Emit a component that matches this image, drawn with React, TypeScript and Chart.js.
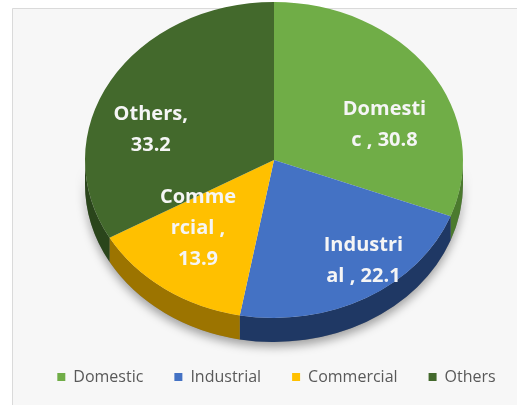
import React, { useEffect, useRef } from "react";
import { Chart, registerables } from "chart.js";

Chart.register(...registerables);

const CATEGORIES = ["Domestic", "Industrial", "Commercial", "Others"];
const VALUES = [30.8, 22.1, 13.9, 33.2];
const TOP_COLORS = ["#70AD47", "#4472C4", "#FFC000", "#43692C"];
const SIDE_COLORS = ["#4B7A2E", "#1F3864", "#9C7400", "#2A451B"];
const LABEL_SEPARATORS = [" , ", " , ", " , ", ", "];
const LABEL_BREAKS = [[7], [8], [5, 12], [7]];
const LABEL_NUDGE = [
  [14, 20],
  [32, 15],
  [-8, -11],
  [-22, 19],
];

// projection of the flat pie into a tilted 3D disc
const PROJ = { cx: 274, cy: 160, tilt: 0.836, depth: 24, radius: 189, labelFrac: 0.62, lineH: 31 };

function wrapLabel(i: number): string[] {
  const text = CATEGORIES[i] + LABEL_SEPARATORS[i] + VALUES[i];
  const out: string[] = [];
  let prev = 0;
  for (const b of LABEL_BREAKS[i]) {
    out.push(text.slice(prev, b).trim());
    prev = b;
  }
  out.push(text.slice(prev).trim());
  return out;
}

const pie3d = {
  id: "pie3d",
  beforeDraw(chart: any) {
    const { ctx, width, height } = chart;
    ctx.save();
    ctx.fillStyle = "#ffffff";
    ctx.fillRect(0, 0, width, height);
    ctx.fillStyle = "#f7f7f7";
    ctx.fillRect(12, 8, width - 12, height - 8);
    ctx.strokeStyle = "#dadada";
    ctx.lineWidth = 1;
    ctx.beginPath();
    ctx.moveTo(12.5, height);
    ctx.lineTo(12.5, 8.5);
    ctx.lineTo(width, 8.5);
    ctx.stroke();
    ctx.restore();
  },
  beforeDatasetsDraw(chart: any) {
    const meta = chart.getDatasetMeta(0);
    const ctx = chart.ctx;
    const first = meta.data[0];
    ctx.save();
    if (!first) return;
    const { x, y, outerRadius: R } = first.getProps(["x", "y", "outerRadius"], true);
    const s = PROJ.tilt;
    ctx.translate(PROJ.cx - x, PROJ.cy - s * y);
    ctx.scale(1, s);
    const D = PROJ.depth / s;

    const band = (a0: number, a1: number) => {
      ctx.beginPath();
      ctx.arc(x, y, R, a0, a1, false);
      ctx.arc(x, y + D, R, a1, a0, true);
      ctx.closePath();
    };

    // soft shadow under the disc
    ctx.save();
    ctx.shadowColor = "rgba(0,0,0,0.35)";
    ctx.shadowBlur = 10;
    ctx.shadowOffsetY = 5;
    ctx.fillStyle = "#888";
    band(0, Math.PI);
    ctx.fill();
    ctx.restore();

    // side walls of each slice
    meta.data.forEach((el: any, i: number) => {
      const { startAngle, endAngle } = el.getProps(["startAngle", "endAngle"], true);
      const a0 = Math.max(startAngle, 0);
      const a1 = Math.min(endAngle, Math.PI);
      if (a1 <= a0) return;
      ctx.fillStyle = SIDE_COLORS[i];
      band(a0, a1);
      ctx.fill();
    });
  },
  afterDatasetsDraw(chart: any) {
    const ctx = chart.ctx;
    ctx.restore();
    const meta = chart.getDatasetMeta(0);
    const s = PROJ.tilt;
    ctx.save();
    ctx.font = "bold 20px 'Open Sans'";
    ctx.fillStyle = "#f5f5f5";
    ctx.textAlign = "center";
    ctx.textBaseline = "middle";
    meta.data.forEach((el: any, i: number) => {
      const { startAngle, endAngle, outerRadius } = el.getProps(
        ["startAngle", "endAngle", "outerRadius"],
        true
      );
      const mid = (startAngle + endAngle) / 2;
      const ux = Math.cos(mid) * outerRadius * PROJ.labelFrac;
      const uy = Math.sin(mid) * outerRadius * PROJ.labelFrac;
      const sx = PROJ.cx + ux + LABEL_NUDGE[i][0];
      const sy = PROJ.cy + s * uy + LABEL_NUDGE[i][1];
      const lines = wrapLabel(i);
      const n = lines.length;
      lines.forEach((t, k) => {
        ctx.fillText(t, sx, sy + (k - (n - 1) / 2) * PROJ.lineH);
      });
    });
    ctx.restore();
  },
};

export default function App() {
  const ref = useRef<HTMLCanvasElement | null>(null);
  useEffect(() => {
    if (!ref.current) return;
    const chart = new Chart(ref.current, {
      type: "pie",
      data: {
        labels: CATEGORIES,
        datasets: [
          {
            data: VALUES,
            backgroundColor: TOP_COLORS,
            borderWidth: 0,
            radius: PROJ.radius,
            clip: false,
          } as any,
        ],
      },
      options: {
        responsive: false,
        maintainAspectRatio: false,
        animation: false,
        devicePixelRatio: 1,
        events: [],
        layout: { padding: { left: 18, right: -18, top: 0, bottom: 10 } },
        plugins: {
          legend: {
            position: "bottom",
            labels: {
              boxWidth: 8,
              boxHeight: 8,
              padding: 31,
              color: "#595959",
              font: { family: "'Open Sans'", size: 16 },
            },
          },
          tooltip: { enabled: false },
        },
      },
      plugins: [pie3d],
    });
    return () => chart.destroy();
  }, []);
  return (
    <div style={{ position: "absolute", left: 0, top: 0, width: 517, height: 405 }}>
      <canvas ref={ref} width={517} height={405} style={{ display: "block", width: 517, height: 405 }} />
    </div>
  );
}
